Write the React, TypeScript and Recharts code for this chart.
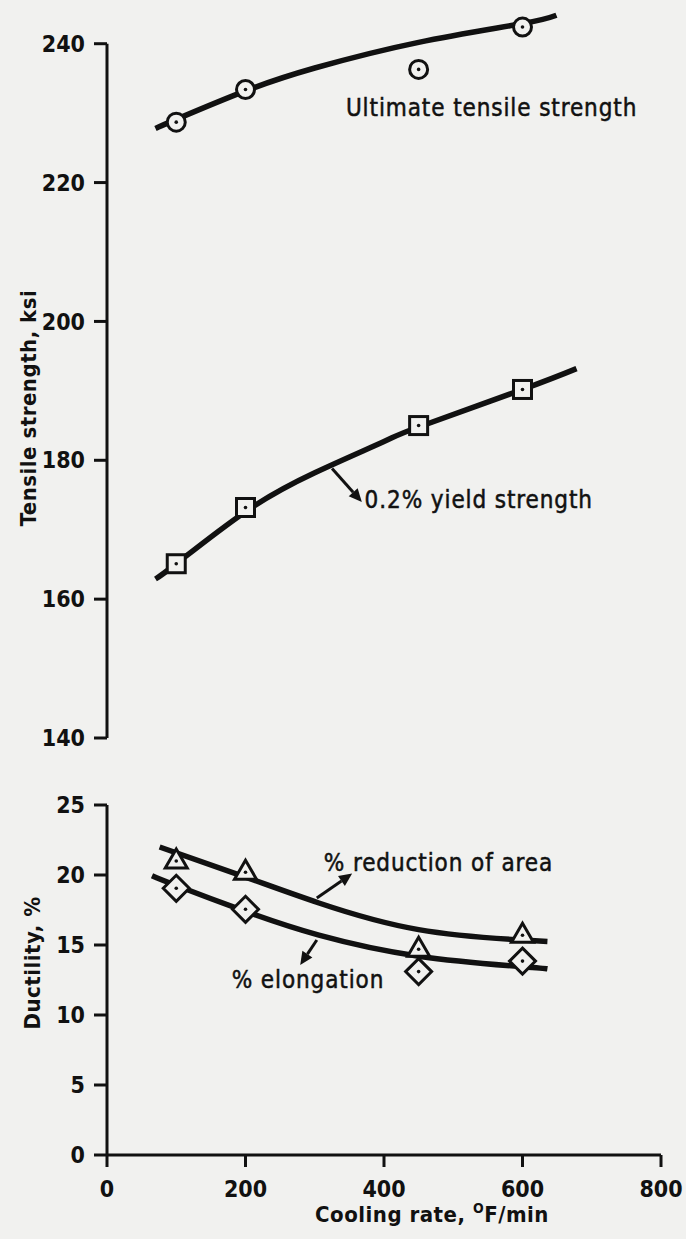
import React from "react";
import {
  ComposedChart,
  Line,
  Scatter,
  XAxis,
  YAxis,
  ReferenceLine,
  ReferenceDot,
} from "recharts";

// measured points (cooling rate, F/min)
const coolingRates = [100, 200, 450, 600];
const utsValues = [228.7, 233.4, 236.3, 242.4];
const yieldValues = [165.1, 173.2, 185.0, 190.2];
const reductionValues = [21.0, 20.2, 14.7, 15.7];
const elongationValues = [19.05, 17.55, 13.1, 13.85];

// faired curves
const utsCurveX = [70, 100, 200, 300, 450, 600, 649];
const utsCurveY = [227.8, 229.1, 233.2, 236.5, 240.2, 242.9, 244.1];
const yieldCurveX = [70, 100, 200, 300, 400, 450, 600, 678];
const yieldCurveY = [162.9, 165.1, 172.6, 178.2, 182.7, 184.8, 190.2, 193.2];
const reductionCurveX = [76, 200, 306, 450, 600, 636];
const reductionCurveY = [22.0, 19.85, 18.0, 16.1, 15.35, 15.25];
const elongationCurveX = [65, 100, 200, 306, 450, 600, 636];
const elongationCurveY = [19.95, 19.25, 17.4, 15.7, 14.2, 13.45, 13.3];

// tick labels
const xTicks = [0, 200, 400, 600, 800];
const strengthTicks = [140, 160, 180, 200, 220, 240];
const ductilityTicks = [0, 5, 10, 15, 20, 25];

const zip = (xs: number[], ys: number[]) => xs.map((x, i) => ({ x, y: ys[i] }));

const INK = "#111";
const BG = "#f1f1ef";
const FONT = "'DejaVu Sans Condensed', 'DejaVu Sans', sans-serif";

const tickStyle = { fill: INK, fontSize: 23, fontWeight: 700, fontFamily: FONT };
const noteStyle: React.CSSProperties = {
  fontFamily: FONT,
  fontSize: 24,
  letterSpacing: 0.9,
  stroke: INK,
  strokeWidth: 0.5,
};
const titleStyle: React.CSSProperties = { fontFamily: FONT, fontSize: 22, fontWeight: 700, letterSpacing: 0.5 };

type Kind = "circle" | "square" | "triangle" | "diamond";

function marker(kind: Kind) {
  return (props: any) => {
    const { cx, cy } = props;
    if (cx == null || cy == null) return <g />;
    let body: React.ReactNode;
    if (kind === "circle") body = <circle cx={cx} cy={cy} r={9} />;
    else if (kind === "square") body = <rect x={cx - 9} y={cy - 9} width={18} height={18} />;
    else if (kind === "triangle")
      body = <polygon points={`${cx},${cy - 12} ${cx + 11},${cy + 7} ${cx - 11},${cy + 7}`} />;
    else body = <polygon points={`${cx},${cy - 13} ${cx + 13},${cy} ${cx},${cy + 13} ${cx - 13},${cy}`} />;
    return (
      <g fill={BG} stroke={INK} strokeWidth={3}>
        {body}
        <circle cx={cx} cy={cy} r={1.8} fill={INK} stroke="none" />
      </g>
    );
  };
}

function arrowShape(props: any) {
  const { x1, y1, x2, y2 } = props;
  const ang = Math.atan2(y2 - y1, x2 - x1);
  const len = 13;
  const w = 6;
  const bx = x2 - len * Math.cos(ang);
  const by = y2 - len * Math.sin(ang);
  const px = -Math.sin(ang) * w;
  const py = Math.cos(ang) * w;
  return (
    <g>
      <line x1={x1} y1={y1} x2={bx} y2={by} stroke={INK} strokeWidth={3} />
      <polygon points={`${x2},${y2} ${bx + px},${by + py} ${bx - px},${by - py}`} fill={INK} />
    </g>
  );
}

function note(text: string) {
  return (props: any) => (
    <text x={props.cx} y={props.cy} dominantBaseline="central" fill={INK} style={noteStyle}>
      {text}
    </text>
  );
}

const curve = (data: { x: number; y: number }[], key: string) => (
  <Line
    key={key}
    data={data}
    dataKey="y"
    type="natural"
    stroke={INK}
    strokeWidth={5.5}
    dot={false}
    activeDot={false}
    isAnimationActive={false}
  />
);

export default function App() {
  return (
    <div style={{ position: "absolute", left: 0, top: 0, width: 686, height: 1239, background: BG }}>
      <div style={{ position: "absolute", left: 0, top: 0 }}>
        <ComposedChart width={686} height={760} margin={{ top: 9, right: 25, bottom: 22, left: 0 }}>
          <XAxis type="number" dataKey="x" domain={[0, 800]} hide />
          <YAxis
            type="number"
            domain={[140, 245]}
            ticks={strengthTicks}
            width={107}
            axisLine={false}
            tickLine={{ stroke: INK, strokeWidth: 3 }}
            tickSize={13}
            tickMargin={9}
            tick={tickStyle}
            label={{
              content: () => (
                <text
                  x={28}
                  y={408}
                  transform="rotate(-90 28 408)"
                  textAnchor="middle"
                  dominantBaseline="central"
                  fill={INK}
                  style={titleStyle}
                >
                  Tensile strength, ksi
                </text>
              ),
            }}
          />
          <ReferenceLine segment={[{ x: 0, y: 140 }, { x: 0, y: 240 }]} stroke={INK} strokeWidth={3} />
          {curve(zip(utsCurveX, utsCurveY), "utsCurve")}
          {curve(zip(yieldCurveX, yieldCurveY), "yieldCurve")}
          <Scatter data={zip(coolingRates, utsValues)} dataKey="y" shape={marker("circle")} isAnimationActive={false} />
          <Scatter data={zip(coolingRates, yieldValues)} dataKey="y" shape={marker("square")} isAnimationActive={false} />
          <ReferenceLine segment={[{ x: 325, y: 178.8 }, { x: 368, y: 174.0 }]} shape={arrowShape} />
          <ReferenceDot x={345} y={230.7} r={1} shape={note("Ultimate tensile strength")} />
          <ReferenceDot x={372} y={174.3} r={1} shape={note("0.2% yield strength")} />
        </ComposedChart>
      </div>
      <div style={{ position: "absolute", left: 0, top: 780 }}>
        <ComposedChart width={686} height={459} margin={{ top: 25, right: 25, bottom: 24, left: 0 }}>
          <XAxis
            type="number"
            dataKey="x"
            domain={[0, 800]}
            ticks={xTicks}
            height={60}
            axisLine={{ stroke: INK, strokeWidth: 3 }}
            tickLine={{ stroke: INK, strokeWidth: 3 }}
            tickSize={12}
            tickMargin={14}
            tick={tickStyle}
            label={{
              content: () => (
                <text x={432} y={442} textAnchor="middle" fill={INK} style={titleStyle}>
                  Cooling rate,{" "}
                  <tspan fontSize={14} dy={-9}>
                    O
                  </tspan>
                  <tspan dy={9}>F/min</tspan>
                </text>
              ),
            }}
          />
          <YAxis
            type="number"
            domain={[0, 25]}
            ticks={ductilityTicks}
            width={107}
            axisLine={{ stroke: INK, strokeWidth: 3 }}
            tickLine={{ stroke: INK, strokeWidth: 3 }}
            tickSize={13}
            tickMargin={9}
            tick={tickStyle}
            label={{
              content: () => (
                <text
                  x={32}
                  y={183}
                  transform="rotate(-90 32 183)"
                  textAnchor="middle"
                  dominantBaseline="central"
                  fill={INK}
                  style={titleStyle}
                >
                  Ductility, %
                </text>
              ),
            }}
          />
          {curve(zip(reductionCurveX, reductionCurveY), "raCurve")}
          {curve(zip(elongationCurveX, elongationCurveY), "elCurve")}
          <Scatter data={zip(coolingRates, reductionValues)} dataKey="y" shape={marker("triangle")} isAnimationActive={false} />
          <Scatter data={zip(coolingRates, elongationValues)} dataKey="y" shape={marker("diamond")} isAnimationActive={false} />
          <ReferenceLine segment={[{ x: 303, y: 18.36 }, { x: 354, y: 20.1 }]} shape={arrowShape} />
          <ReferenceLine segment={[{ x: 303, y: 15.36 }, { x: 279, y: 13.57 }]} shape={arrowShape} />
          <ReferenceDot x={313} y={20.86} r={1} shape={note("% reduction of area")} />
          <ReferenceDot x={180} y={12.5} r={1} shape={note("% elongation")} />
        </ComposedChart>
      </div>
    </div>
  );
}
